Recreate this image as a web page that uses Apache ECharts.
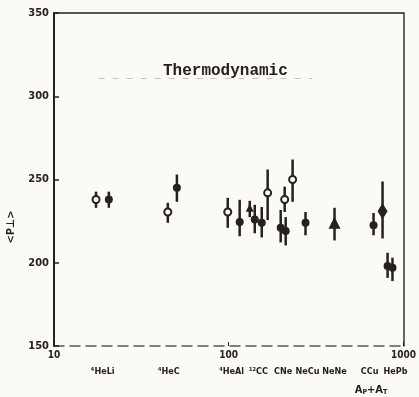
<!DOCTYPE html>
<html><head><meta charset="utf-8">
<script src="https://cdn.jsdelivr.net/npm/echarts@6/dist/echarts.min.js"></script>
<style>html,body{margin:0;padding:0;background:#fbfaf5;}#c{width:419px;height:397px;}</style>
</head><body><div id="c"></div>
<script>
// ---- data ----
const yTicks = [150, 200, 250, 300, 350];
const catNames = ['⁴HeLi', '⁴HeC', '⁴HeAl', '¹²CC', 'CNe', 'NeCu', 'NeNe', 'CCu', 'HePb'];
const catX = [19, 45.4, 104, 148, 205, 282, 403, 640, 900];

const openX  = [17.4, 44.8, 98.7, 167, 209, 232];
const openY  = [238, 230.5, 230.5, 242, 238, 250];
const openLo = [233, 224, 221, 225.6, 230.5, 236.6];
const openHi = [242.7, 236, 239, 256, 245.7, 262];

const filledX  = [20.6, 50.5, 115.5, 140.9, 154.5, 198.3, 211.8, 275, 674, 811, 865];
const filledY  = [238, 245, 224.4, 226, 224, 221, 219, 224, 222.5, 198, 197];
const filledLo = [233, 236.6, 215.9, 217.7, 215.2, 212.2, 210.4, 216.5, 216.5, 190.9, 189];
const filledHi = [242.7, 253, 237.8, 234.8, 233.5, 231.7, 227.4, 230.5, 229.9, 206, 203];

const triX  = [131.9, 403];
const triY  = [233, 224];
const triLo = [227.4, 213.4];
const triHi = [237.2, 233];
const triSize = [8, 12];

const diaX  = [759];
const diaY  = [231];
const diaLo = [214.6];
const diaHi = [248.8];

// ---- build ----
const ink = '#26211e';
const font = 'DejaVu Sans Condensed';
function pts(xs, ys) { return xs.map((x, i) => [x, ys[i]]); }
function errs(xs, lo, hi) { return xs.map((x, i) => [x, lo[i], hi[i]]); }
const allErr = [].concat(
  errs(openX, openLo, openHi), errs(filledX, filledLo, filledHi),
  errs(triX, triLo, triHi), errs(diaX, diaLo, diaHi));

const chart = echarts.init(document.getElementById('c'), null, {renderer: 'canvas'});
chart.setOption({
  backgroundColor: '#fbfaf5',
  animation: false,
  title: {
    text: 'Thermodynamic', left: 158, top: 58,
    textStyle: {fontFamily: 'Liberation Mono', fontSize: 16, fontWeight: 'bold', color: ink}
  },
  grid: {left: 54, right: 14, top: 13, bottom: 51},
  xAxis: [{
    type: 'log', logBase: 10, min: 10, max: 1000,
    axisLine: {show: true, lineStyle: {color: '#555', width: 1.5, type: [10, 6]}},
    axisTick: {show: true, inside: true, length: 4, lineStyle: {color: ink}},
    minorTick: {show: false},
    splitLine: {show: false},
    axisLabel: {margin: 4, color: ink, fontFamily: font, fontWeight: 'bold', fontSize: 10,
                formatter: function (v) { return String(Math.round(v)); }}
  }, {
    type: 'log', logBase: 10, min: 10, max: 1000, position: 'top',
    axisLine: {show: true, lineStyle: {color: ink, width: 1.5}},
    axisTick: {show: false}, axisLabel: {show: false}, splitLine: {show: false}
  }],
  yAxis: [{
    type: 'value', min: yTicks[0], max: yTicks[yTicks.length - 1], interval: 50,
    axisLine: {show: true, lineStyle: {color: ink, width: 2}},
    axisTick: {show: true, inside: true, length: 5, lineStyle: {color: ink, width: 1.5}},
    splitLine: {show: false},
    axisLabel: {margin: 5, color: ink, fontFamily: font, fontWeight: 'bold', fontSize: 11}
  }, {
    type: 'value', min: yTicks[0], max: yTicks[yTicks.length - 1], interval: 50, position: 'right',
    axisLine: {show: true, lineStyle: {color: '#3a3431', width: 1.5}},
    axisTick: {show: false}, axisLabel: {show: false}, splitLine: {show: false}
  }],
  graphic: [
    {type: 'text', x: 11, y: 227, rotation: Math.PI / 2, style: {
      text: '<P⊥>', font: 'bold 11px "DejaVu Sans Condensed"', fill: ink,
      textAlign: 'center', textVerticalAlign: 'middle'}},
    {type: 'text', x: 371, y: 390, style: {
      text: '{a|A}{s|P}{a|+A}{s|T}', fill: ink, textAlign: 'center', textVerticalAlign: 'middle',
      rich: {a: {fontFamily: font, fontWeight: 'bold', fontSize: 11, fill: ink},
             s: {fontFamily: font, fontWeight: 'bold', fontSize: 7, fill: ink, verticalAlign: 'bottom', padding: [5, 0, 0, 0]}}
    }}
  ],
  series: [
    {
      type: 'custom', name: 'err', data: allErr, z: 2, clip: false,
      renderItem: function (params, api) {
        const a = api.coord([api.value(0), api.value(1)]);
        const b = api.coord([api.value(0), api.value(2)]);
        return {type: 'line', shape: {x1: a[0], y1: a[1], x2: b[0], y2: b[1]},
                style: {stroke: ink, lineWidth: 2.5}};
      }
    },
    {
      type: 'scatter', name: 'open', data: pts(openX, openY), z: 4,
      symbol: 'circle', symbolSize: 7,
      itemStyle: {color: '#fbfaf5', borderColor: ink, borderWidth: 2, opacity: 1}
    },
    {
      type: 'scatter', name: 'filled', data: pts(filledX, filledY), z: 4,
      symbol: 'circle', symbolSize: 8,
      itemStyle: {color: ink, opacity: 1},
      markLine: {
        silent: true, symbol: 'none', label: {show: false},
        lineStyle: {color: '#c9c4bb', width: 1, type: [6, 8]},
        data: [[{coord: [18, 311]}, {coord: [300, 311]}]]
      }
    },
    {
      type: 'scatter', name: 'tri', data: pts(triX, triY), z: 4,
      symbol: 'triangle', symbolSize: function (v, p) { return triSize[p.dataIndex]; },
      itemStyle: {color: ink, opacity: 1}
    },
    {
      type: 'scatter', name: 'dia', data: pts(diaX, diaY), z: 4,
      symbol: 'diamond', symbolSize: [10, 16],
      itemStyle: {color: ink, opacity: 1}
    },
    {
      type: 'scatter', name: 'cats', data: catX.map((x, i) => ({value: [x, 150], name: catNames[i]})),
      symbolSize: 0, clip: false, silent: true,
      itemStyle: {opacity: 1},
      label: {show: true, position: 'inside', offset: [0, 26], formatter: '{b}',
              color: ink, fontFamily: font, fontWeight: 'bold', fontSize: 9}
    }
  ]
});
</script>
</body></html>
